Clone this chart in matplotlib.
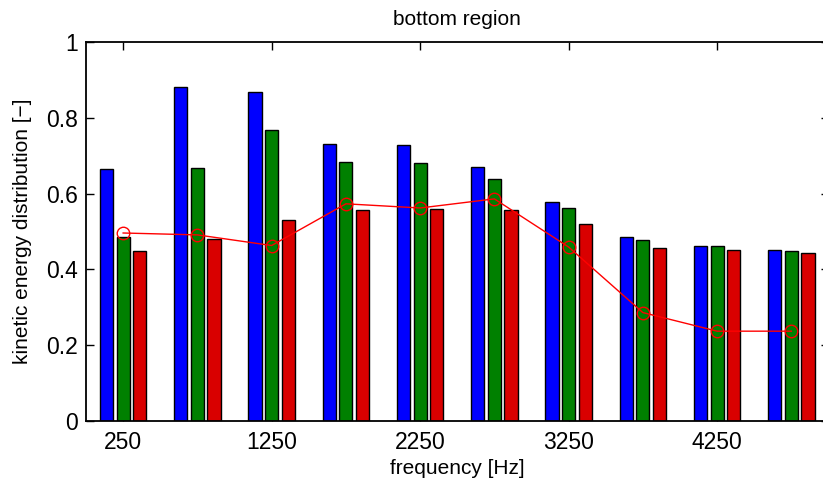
import matplotlib
matplotlib.use('Agg')
import matplotlib.pyplot as plt
import numpy as np

plt.rcParams['font.family'] = ['Liberation Sans', 'DejaVu Sans']

freqs = [250, 750, 1250, 1750, 2250, 2750, 3250, 3750, 4250, 4750]
blue_vals = [0.664, 0.882, 0.868, 0.730, 0.728, 0.669, 0.579, 0.486, 0.463, 0.450]
green_vals = [0.485, 0.668, 0.768, 0.682, 0.680, 0.639, 0.563, 0.478, 0.461, 0.449]
red_vals = [0.449, 0.479, 0.529, 0.556, 0.560, 0.557, 0.519, 0.456, 0.451, 0.444]
line_vals = [0.496, 0.491, 0.463, 0.573, 0.562, 0.586, 0.459, 0.286, 0.237, 0.237]
xtick_vals = [250, 1250, 2250, 3250, 4250]
ytick_vals = [0, 0.2, 0.4, 0.6, 0.8, 1]

fig = plt.figure(figsize=(8.23, 4.88), dpi=100)
# axes runs past the right edge of the figure, as in the cropped original
ax = fig.add_axes([0.1045, 0.1373, 0.9022, 0.7767])

x = np.array(freqs)
offset = 112
width = 88
bar_kw = dict(width=width, edgecolor='black', linewidth=1.0, zorder=2)
ax.bar(x - offset, blue_vals, color='#0000ff', **bar_kw)
ax.bar(x, green_vals, color='#008000', **bar_kw)
ax.bar(x + offset, red_vals, color='#d90000', **bar_kw)

ax.plot(x, line_vals, color='#ff0000', linewidth=1.0, marker='o',
        markersize=9, markerfacecolor='none', markeredgecolor='#ff0000',
        markeredgewidth=1.0, zorder=3)

ax.set_xlim(0, 5000)
ax.set_ylim(0, 1)
ax.set_xticks(xtick_vals)
ax.set_xticklabels([str(v) for v in xtick_vals])
ax.set_yticks(ytick_vals)
ax.set_yticklabels(['0', '0.2', '0.4', '0.6', '0.8', '1'])

ax.tick_params(direction='in', length=6, width=1.0, top=True, right=True,
               labelsize=16.5)
ax.tick_params(axis='x', pad=7)
ax.tick_params(axis='y', pad=6)
for sp in ax.spines.values():
    sp.set_linewidth(1.3)

ax.set_xlabel('frequency [Hz]', fontsize=15, labelpad=4)
ax.set_ylabel('kinetic energy distribution [\u2212]', fontsize=15, labelpad=10)
ax.set_title('bottom region', fontsize=15, pad=12)

fig.savefig('out.png', dpi=100)
